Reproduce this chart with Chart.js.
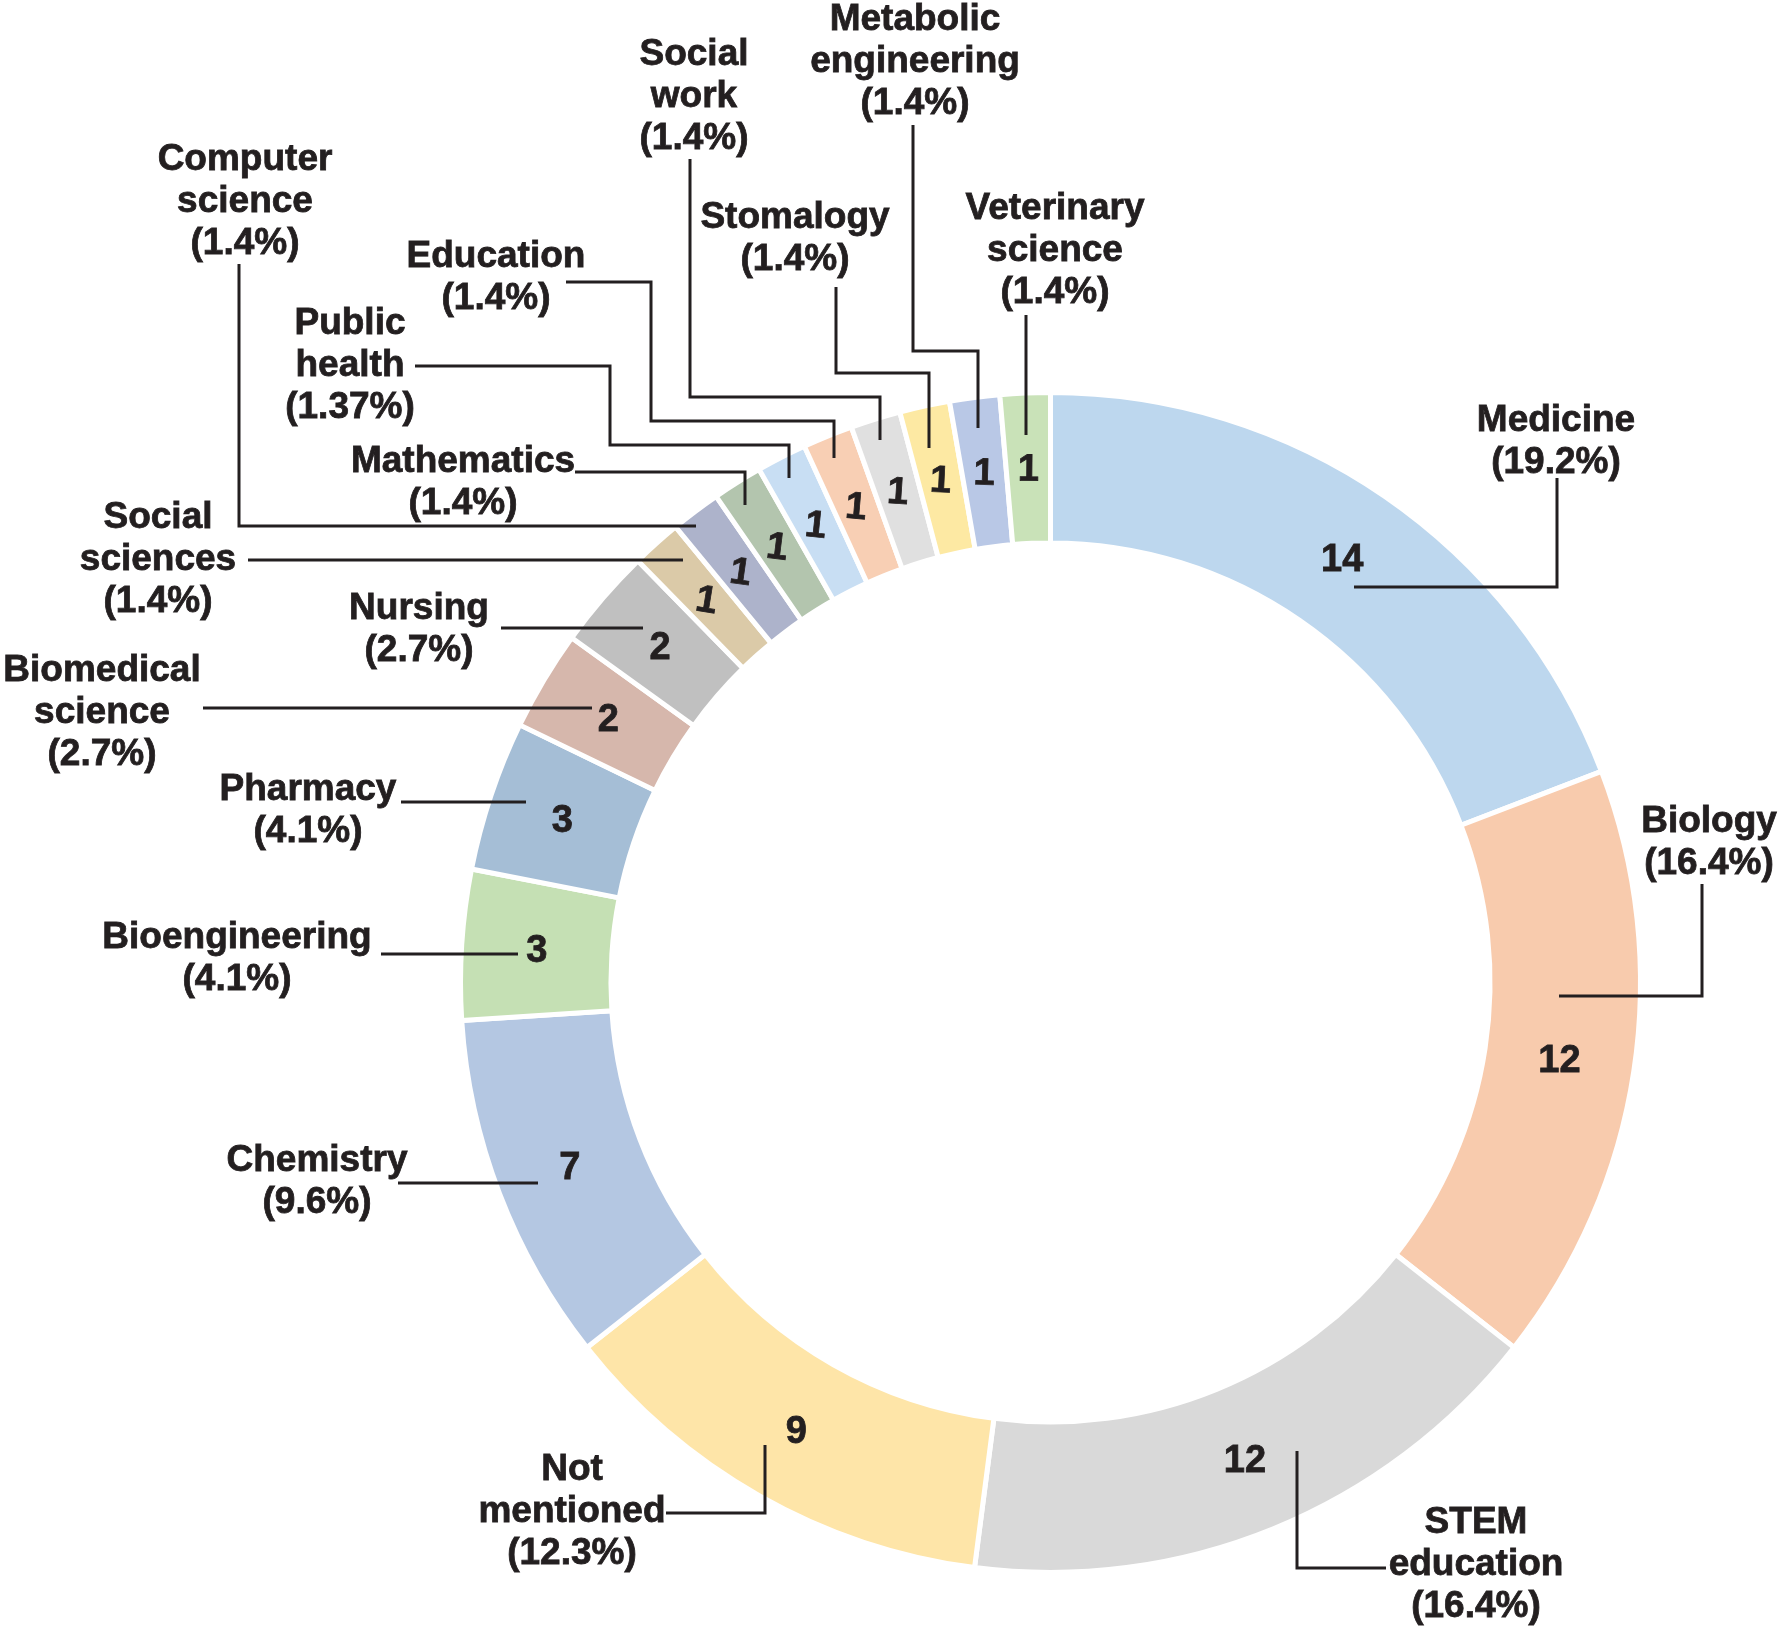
<!DOCTYPE html>
<html>
<head>
<meta charset="utf-8">
<script src="https://cdn.jsdelivr.net/npm/chart.js@4/dist/chart.umd.min.js"></script>
<style>
  html, body { margin: 0; padding: 0; background: #fff; }
  canvas { display: block; }
</style>
</head>
<body>
<canvas id="chart" width="1784" height="1631"></canvas>
<script>
// ---- Data ----
const categories = [
  "Medicine", "Biology", "STEM\neducation", "Not\nmentioned", "Chemistry",
  "Bioengineering", "Pharmacy", "Biomedical\nscience", "Nursing", "Social\nsciences",
  "Computer\nscience", "Mathematics", "Public\nhealth", "Education", "Social\nwork",
  "Stomalogy", "Metabolic\nengineering", "Veterinary\nscience"
];
const counts = [14, 12, 12, 9, 7, 3, 3, 2, 2, 1, 1, 1, 1, 1, 1, 1, 1, 1];
const percentLabels = [
  "19.2%", "16.4%", "16.4%", "12.3%", "9.6%", "4.1%", "4.1%", "2.7%", "2.7%", "1.4%",
  "1.4%", "1.4%", "1.37%", "1.4%", "1.4%", "1.4%", "1.4%", "1.4%"
];
const colors = [
  "#bdd7ee", "#f8cbad", "#d9d9d9", "#fee5a8", "#b4c7e2",
  "#c5e0b4", "#a5bed6", "#d6b7ac", "#c0c0c0", "#dbcaa8",
  "#adb3cb", "#b3c5ae", "#c8def3", "#f8cfb4", "#e0e0e0",
  "#fde9a3", "#b9c8e6", "#c9e2b8"
];

// ---- Callout layout (text anchor + leader line), in page pixels ----
const callouts = [
  { x: 1556, y: 421,  line: [[1557,478],[1557,587],[1354,587]] },
  { x: 1709, y: 822,  line: [[1702,884],[1702,996],[1559,996]] },
  { x: 1476, y: 1523, line: [[1297,1451],[1297,1568],[1386,1568]] },
  { x: 572,  y: 1470, line: [[666,1513],[765,1513],[765,1445]] },
  { x: 317,  y: 1161, line: [[398,1183],[538,1183]] },
  { x: 237,  y: 938,  line: [[381,954],[518,954]] },
  { x: 308,  y: 790,  line: [[401,802],[526,802]] },
  { x: 102,  y: 671,  line: [[203,708],[592,708]] },
  { x: 419,  y: 609,  line: [[501,628],[643,628]] },
  { x: 158,  y: 518,  line: [[248,560],[683,560]] },
  { x: 245,  y: 160,  line: [[239,264],[239,526],[696,526]] },
  { x: 463,  y: 462,  line: [[575,472],[745,472],[745,505]] },
  { x: 350,  y: 324,  line: [[415,366],[610,366],[610,445],[789,445],[789,478]] },
  { x: 496,  y: 257,  line: [[566,282],[651,282],[651,421],[834,421],[834,458]] },
  { x: 694,  y: 55,   line: [[690,159],[690,397],[880,397],[880,440]] },
  { x: 795,  y: 218,  line: [[836,287],[836,373],[929,373],[929,448]] },
  { x: 915,  y: 20,   line: [[913,125],[913,351],[978,351],[978,428]] },
  { x: 1055, y: 209,  line: [[1026,315],[1026,435]] }
];

const FONT = 'bold 37px "Liberation Sans", Arial, Helvetica, sans-serif';
const NUM_FONT = 'bold 38px "Liberation Sans", Arial, Helvetica, sans-serif';
const INK = "#231f20";
const LINE_H = 42;

// slightly heavier text than plain bold
function inkText(ctx, t, x, y){
  ctx.lineWidth = 0.8;
  ctx.strokeText(t, x, y);
  ctx.fillText(t, x, y);
}

// draws the callouts and the counts inside the ring
const labelPlugin = {
  id: "labels",
  afterDatasetsDraw(chart){
    const ctx = chart.ctx;
    const arcs = chart.getDatasetMeta(0).data;
    ctx.save();
    ctx.fillStyle = INK;
    ctx.strokeStyle = INK;
    ctx.textAlign = "center";
    ctx.textBaseline = "middle";
    ctx.lineJoin = "miter";

    callouts.forEach((c, i)=>{
      // leader line
      ctx.lineWidth = 3;
      ctx.beginPath();
      c.line.forEach((p, k)=>{ k ? ctx.lineTo(p[0], p[1]) : ctx.moveTo(p[0], p[1]); });
      ctx.stroke();
      // name + percent
      ctx.font = FONT;
      const lines = categories[i].split("\n").concat("(" + percentLabels[i] + ")");
      lines.forEach((t, k)=> inkText(ctx, t, c.x, c.y + k*LINE_H));
    });

    // counts in the middle of each slice
    ctx.font = NUM_FONT;
    arcs.forEach((arc, i)=>{
      const p = arc.getProps(["x","y","startAngle","endAngle","innerRadius","outerRadius"], true);
      const a = (p.startAngle + p.endAngle)/2;
      const r = (p.innerRadius + p.outerRadius)/2;
      const x = p.x + r*Math.cos(a), y = p.y + r*Math.sin(a);
      ctx.save();
      ctx.translate(x, y);
      if (counts[i] === 1) {
        const fromTop = (a + Math.PI/2) * 180/Math.PI; // degrees clockwise from top
        ctx.rotate((360 - fromTop) * 0.22 * Math.PI/180);
      }
      inkText(ctx, String(counts[i]), 0, 2);
      ctx.restore();
    });
    ctx.restore();
  }
};

new Chart(document.getElementById("chart"), {
  type: "doughnut",
  data: {
    labels: categories.map(s => s.replace("\n", " ")),
    datasets: [{
      data: counts,
      backgroundColor: colors,
      borderColor: "#ffffff",
      borderWidth: 5,
      hoverOffset: 0
    }]
  },
  options: {
    responsive: false,
    animation: false,
    devicePixelRatio: 1,
    cutout: "74.5%",
    layout: { padding: { left: 458, top: 390, right: 141, bottom: 56 } },
    plugins: {
      legend: { display: false },
      tooltip: { enabled: false }
    }
  },
  plugins: [labelPlugin]
});
</script>
</body>
</html>
